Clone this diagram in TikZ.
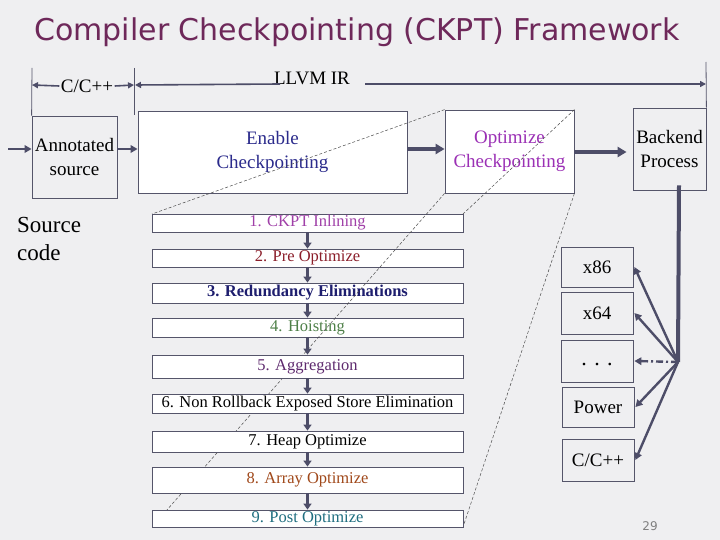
\documentclass[tikz,border=0pt]{standalone}
\usepackage{fontspec}
\setmainfont{Liberation Serif}
\newfontfamily\titlefont{DejaVu Sans}
\newfontfamily\numfont{DejaVu Sans}
\usetikzlibrary{arrows.meta}
\definecolor{bgc}{HTML}{EFEFF1}
\definecolor{boxc}{HTML}{55556A}
\definecolor{arrc}{HTML}{4D4D68}
\definecolor{titlec}{HTML}{6E285A}
\definecolor{enc}{HTML}{2B2B8C}
\definecolor{optc}{HTML}{9B30B5}
\definecolor{pa}{HTML}{A040A8}
\definecolor{pb}{HTML}{8B1E2A}
\definecolor{pc}{HTML}{1E1E6E}
\definecolor{pd}{HTML}{4E8048}
\definecolor{pe}{HTML}{5E2A6E}
\definecolor{ph}{HTML}{A0481A}
\definecolor{pi}{HTML}{1F6E80}
\tikzset{
  box/.style={draw=boxc, line width=0.8pt, inner sep=0pt, align=center,
    font=\fontsize{19}{24}\selectfont},
  wbox/.style={box, fill=white},
  tbox/.style={box, minimum width=72pt},
  pass/.style={draw=boxc, fill=white, line width=0.8pt, minimum width=311pt,
    inner sep=0pt, font=\fontsize{16.5}{18}\selectfont},
  arr/.style={draw=arrc, line width=2.4pt, -{Triangle[length=7pt,width=7.5pt]}},
  parr/.style={draw=arrc, line width=2.6pt, -{Triangle[length=6pt,width=8pt]}},
  tharr/.style={draw=arrc, line width=4.5pt, -{Triangle[length=9pt,width=10pt]}},
  tarr/.style={draw=arrc, line width=1.6pt, -{Triangle[length=6pt,width=6pt]}},
  zl/.style={draw=black!70, line width=0.5pt, dash pattern=on 3pt off 2pt},
  lbl/.style={inner sep=1.5pt, font=\fontsize{19}{24}\selectfont}
}
\begin{document}
\begin{tikzpicture}[x=1pt,y=-1pt]
\useasboundingbox (0,0) rectangle (720,540);
\fill[bgc] (0,0) rectangle (720,540);

% title
\node[text=titlec, font=\titlefont\fontsize{30}{34}\selectfont, inner sep=0pt] (title) at (357,32) {Compiler Checkpointing (CKPT) Framework};

% top labels
\node[lbl] (cpplab) at (87,86) {C/C++};
\node[lbl] (llvm) at (312,78) {LLVM IR};
\coordinate (vlt) at (32,68);
\coordinate (vrt) at (134,68);
\coordinate (vl) at (32,85);
\coordinate (vr) at (134,85);
\coordinate (vrb) at (134,115);
\coordinate (ll) at (280,84);
\coordinate (lr) at (365,84);
\coordinate (be) at (706,84);
\coordinate (bt) at (706,62);

% boxes
\node[box, minimum width=85pt, minimum height=82pt] (annot) at (74.5,157) {Annotated\\source};
\node[wbox, minimum width=269pt, minimum height=82pt, text=enc] (enable) at (272.5,152) {Enable\\Checkpointing};
\node[wbox, minimum width=129pt, minimum height=83pt, text=optc] (opt) at (509.5,151.5) {Optimize\\Checkpointing};
\node[box, minimum width=73pt, minimum height=82pt] (backend) at (669.5,149) {Backend\\Process};

\node[anchor=west, align=left, inner sep=0pt, font=\fontsize{23}{28}\selectfont] (src) at (17,239) {Source\\code};

% top dimension arrows
\draw[boxc, line width=0.8pt] (vlt) -- (annot.north west);
\draw[boxc, line width=0.8pt] (vrt) -- (vrb);
\draw[tarr] (cpplab.west) -- (vl);
\draw[tarr] (cpplab.east) -- (vr);
\draw[tarr] (ll) -- ([xshift=1pt]vr);
\draw[tarr] (lr) -- (be);
\draw[boxc, line width=0.8pt] (bt) -- (backend.north east);

% flow arrows
\coordinate (in) at (8,149);
\coordinate (ob) at (600,152);
\draw[arr] (in) -- (in -| annot.west);
\draw[arr] (annot.east |- in) -- (in -| enable.west);
\draw[tharr] (enable.east |- in) -- (in -| opt.west);
\draw[tharr] (opt.east |- ob) -- ([xshift=-6pt]backend.west |- ob);

% zoom lines over the top boxes
\draw[zl] (opt.north west) -- (152,214);
\draw[zl] (opt.north east) -- (463,214);
\draw[zl] (opt.south east) -- (463,527);

% passes 1-4
\node[pass, minimum height=18pt, text=pa] (p1) at (307.5,223) {1. CKPT Inlining};
\node[pass, minimum height=18pt, text=pb] (p2) at (307.5,258) {2. Pre Optimize};
\node[pass, minimum height=20pt, text=pc, font=\fontsize{16.5}{18}\selectfont\bfseries] (p3) at (307.5,293) {3. Redundancy Eliminations};
\node[pass, minimum height=19pt, text=pd] (p4) at (307.5,327.5) {4. Hoisting};

\draw[zl] (opt.south west) -- (152,527);

% passes 5-9
\node[pass, minimum height=23pt, text=pe] (p5) at (307.5,366.5) {5. Aggregation};
\node[pass, minimum height=19pt] (p6) at (307.5,403.5) {6. Non Rollback Exposed Store Elimination};
\node[pass, minimum height=21pt] (p7) at (307.5,441.5) {7. Heap Optimize};
\node[pass, minimum height=26pt, text=ph] (p8) at (307.5,480) {8. Array Optimize};
\node[pass, minimum height=17pt, text=pi] (p9) at (307.5,518.5) {9. Post Optimize};

\foreach \a/\b in {p1/p2,p2/p3,p3/p4,p4/p5,p5/p6,p6/p7,p7/p8,p8/p9}
  \draw[parr] (\a.south) -- (\b.north);

% targets
\node[tbox, minimum height=40pt] (x86) at (597,267) {x86};
\node[tbox, minimum height=42pt] (x64) at (597,313) {x64};
\node[tbox, minimum height=42pt] (dots) at (597,361) {\raisebox{-9pt}{\fontsize{22}{24}\selectfont .\,\,.\,\,.}};
\node[tbox, minimum height=40pt] (power) at (598,407) {Power};
\node[tbox, minimum height=42pt] (cpp) at (598,460) {C/C++};

\coordinate (fan) at (678,362);
\draw[draw=arrc, line width=4pt] ([shift={(9.5pt,5pt)}]backend.south) -- (fan);
\draw[arr] (fan) -- ([xshift=1pt]x86.east);
\draw[arr] (fan) -- ([xshift=1pt]x64.east);
\draw[arr, dash pattern=on 7pt off 3pt on 2pt off 3pt] (fan) -- ([xshift=1pt]dots.east);
\draw[arr] (fan) -- ([xshift=1pt]power.east);
\draw[arr] (fan) -- ([xshift=1pt]cpp.east);

\node[text=black!50, font=\numfont\fontsize{12}{14}\selectfont, inner sep=0pt] (num) at (650,526) {29};
\end{tikzpicture}
\end{document}
